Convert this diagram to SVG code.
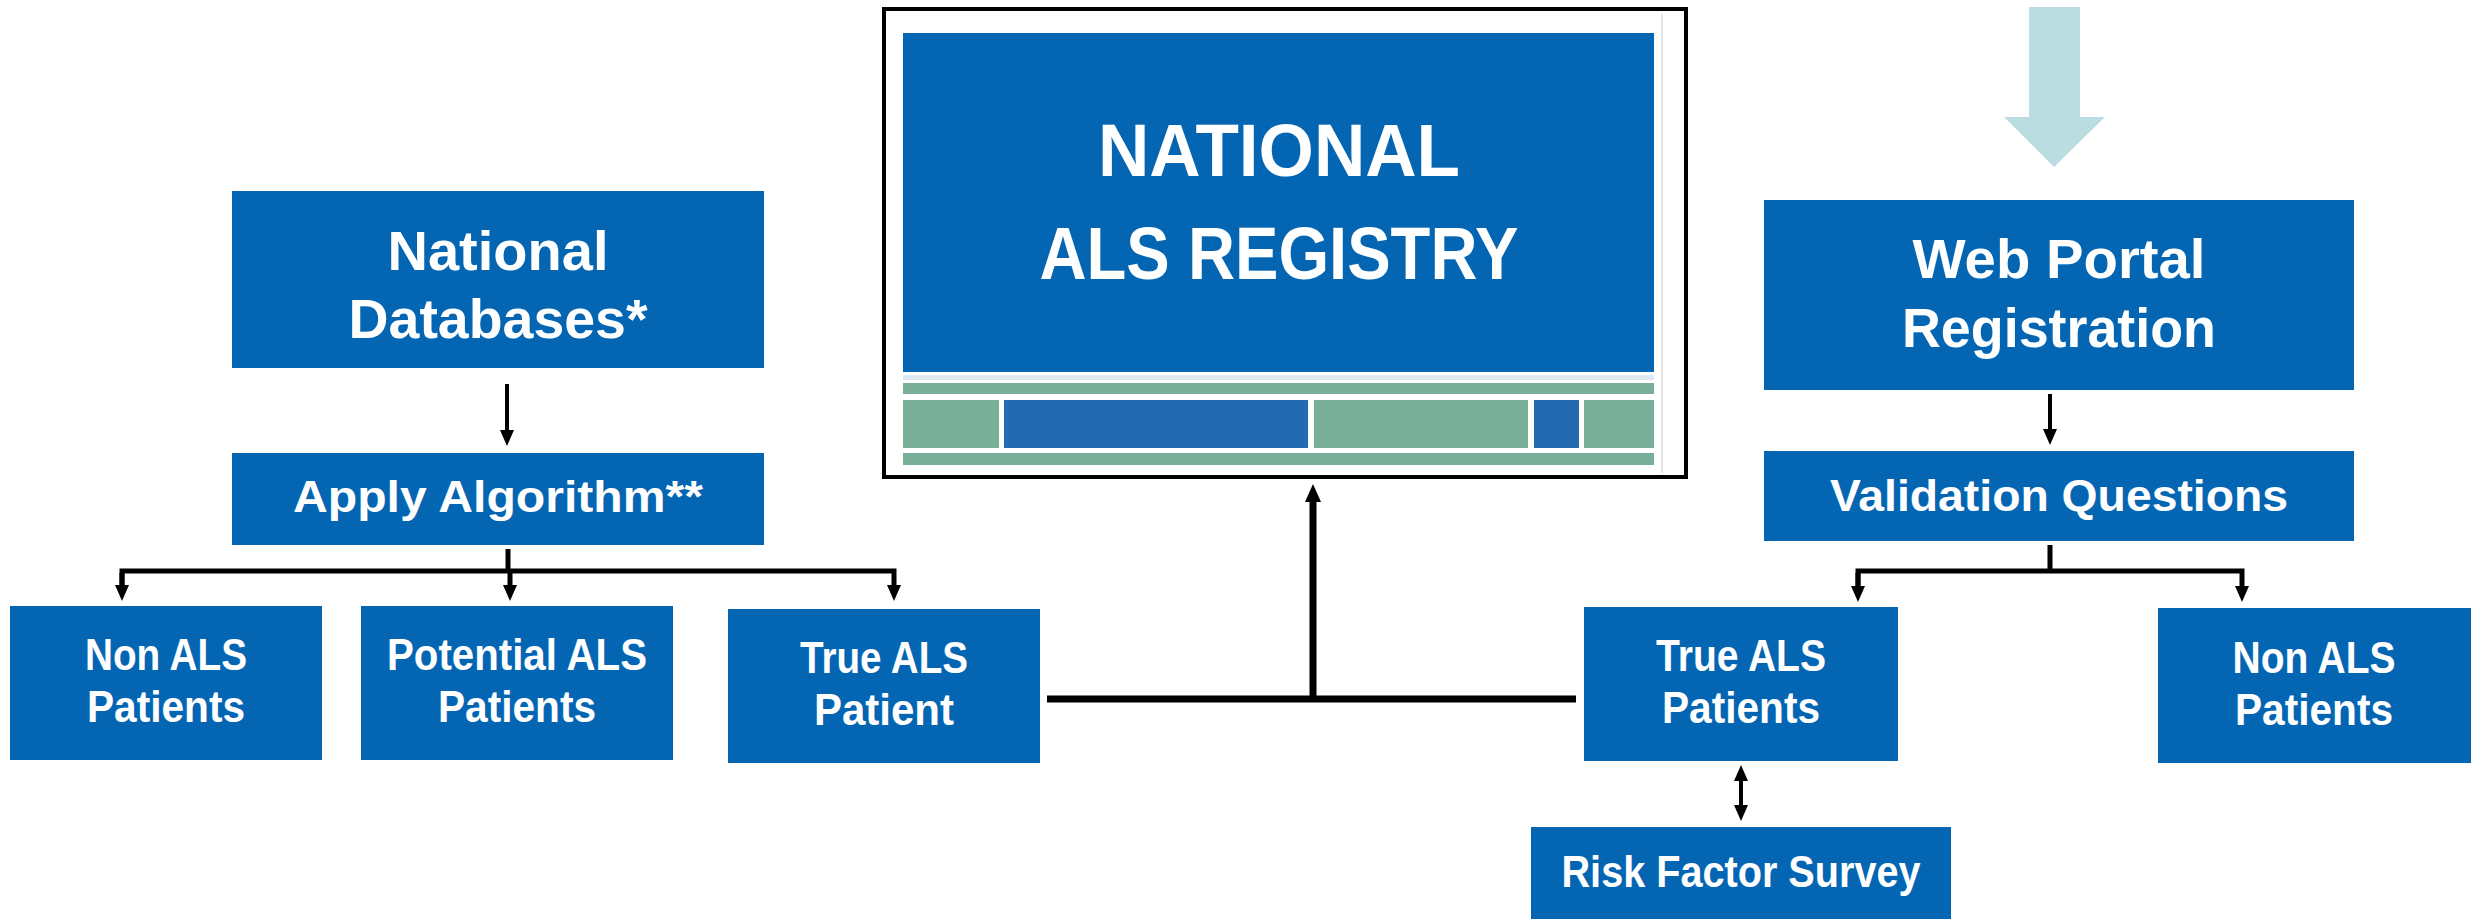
<svg xmlns="http://www.w3.org/2000/svg" width="2475" height="919" viewBox="0 0 2475 919">
<style>
.box{fill:#0466B3}
.t{font-family:"Liberation Sans",Arial,sans-serif;font-weight:bold;fill:#fff;text-anchor:middle}
.c{stroke:#000;fill:none}
.g{fill:#79AE98}
.b2{fill:#236BB0}
</style>
<defs>
<marker id="ah" markerUnits="userSpaceOnUse" markerWidth="16" markerHeight="16" viewBox="0 0 16 16" refX="1" refY="8" orient="auto"><path d="M0,1 L16,8 L0,15 z" fill="#000"/></marker>
<marker id="ahb" markerUnits="userSpaceOnUse" markerWidth="18" markerHeight="18" viewBox="0 0 18 18" refX="1" refY="9" orient="auto"><path d="M0,1 L18,9 L0,17 z" fill="#000"/></marker>
<marker id="ahd" markerUnits="userSpaceOnUse" markerWidth="16" markerHeight="16" viewBox="0 0 16 16" refX="1" refY="8" orient="auto-start-reverse"><path d="M0,1 L16,8 L0,15 z" fill="#000"/></marker>
</defs>
<rect width="2475" height="919" fill="#fff"/>

<g id="registry">
<rect x="884" y="9" width="802" height="468" fill="#fff" stroke="#000" stroke-width="4"/>
<line x1="1662" y1="14" x2="1662" y2="473" stroke="#e4e4e4" stroke-width="2"/>
<rect class="box" x="903" y="33" width="751" height="339"/>
<rect x="903" y="375" width="751" height="5" fill="#dde9f1"/>
<rect class="g" x="903" y="383" width="751" height="11"/>
<rect class="g" x="903" y="400" width="96" height="48"/>
<rect class="b2" x="1004" y="400" width="304" height="48"/>
<rect class="g" x="1314" y="400" width="214" height="48"/>
<rect class="b2" x="1534" y="400" width="45" height="48"/>
<rect class="g" x="1584" y="400" width="70" height="48"/>
<rect class="g" x="903" y="453" width="751" height="12"/>
<text class="t" x="1279" y="176" font-size="74" textLength="362" lengthAdjust="spacingAndGlyphs">NATIONAL</text>
<text class="t" x="1279" y="279" font-size="74" textLength="479" lengthAdjust="spacingAndGlyphs">ALS REGISTRY</text>
</g>

<g id="national-databases">
<rect class="box" x="232" y="191" width="532" height="177"/>
<text class="t" x="498" y="270" font-size="56" textLength="221" lengthAdjust="spacingAndGlyphs">National</text>
<text class="t" x="498" y="338" font-size="56" textLength="299" lengthAdjust="spacingAndGlyphs">Databases*</text>
</g>

<g id="apply-algorithm">
<rect class="box" x="232" y="453" width="532" height="92"/>
<text class="t" x="498" y="512" font-size="45" textLength="410" lengthAdjust="spacingAndGlyphs">Apply Algorithm**</text>
</g>

<g id="non-als-left">
<rect class="box" x="10" y="606" width="312" height="154"/>
<text class="t" x="166" y="670" font-size="44" textLength="162" lengthAdjust="spacingAndGlyphs">Non ALS</text>
<text class="t" x="166" y="722" font-size="44" textLength="158" lengthAdjust="spacingAndGlyphs">Patients</text>
</g>

<g id="potential-als">
<rect class="box" x="361" y="606" width="312" height="154"/>
<text class="t" x="517" y="670" font-size="44" textLength="260" lengthAdjust="spacingAndGlyphs">Potential ALS</text>
<text class="t" x="517" y="722" font-size="44" textLength="158" lengthAdjust="spacingAndGlyphs">Patients</text>
</g>

<g id="true-als-left">
<rect class="box" x="728" y="609" width="312" height="154"/>
<text class="t" x="884" y="673" font-size="44" textLength="168" lengthAdjust="spacingAndGlyphs">True ALS</text>
<text class="t" x="884" y="725" font-size="44" textLength="140" lengthAdjust="spacingAndGlyphs">Patient</text>
</g>

<g id="web-portal">
<polygon points="2029,7 2080,7 2080,117 2105,117 2054,167 2004,117 2029,117" fill="#B9DDE0"/>
<rect class="box" x="1764" y="200" width="590" height="190"/>
<text class="t" x="2059" y="278" font-size="56" textLength="293" lengthAdjust="spacingAndGlyphs">Web Portal</text>
<text class="t" x="2059" y="347" font-size="56" textLength="314" lengthAdjust="spacingAndGlyphs">Registration</text>
</g>

<g id="validation-questions">
<rect class="box" x="1764" y="451" width="590" height="90"/>
<text class="t" x="2059" y="511" font-size="45" textLength="458" lengthAdjust="spacingAndGlyphs">Validation Questions</text>
</g>

<g id="true-als-right">
<rect class="box" x="1584" y="607" width="314" height="154"/>
<text class="t" x="1741" y="671" font-size="44" textLength="170" lengthAdjust="spacingAndGlyphs">True ALS</text>
<text class="t" x="1741" y="723" font-size="44" textLength="158" lengthAdjust="spacingAndGlyphs">Patients</text>
</g>

<g id="non-als-right">
<rect class="box" x="2158" y="608" width="313" height="155"/>
<text class="t" x="2314" y="673" font-size="44" textLength="163" lengthAdjust="spacingAndGlyphs">Non ALS</text>
<text class="t" x="2314" y="725" font-size="44" textLength="158" lengthAdjust="spacingAndGlyphs">Patients</text>
</g>

<g id="risk-factor-survey">
<rect class="box" x="1531" y="827" width="420" height="92"/>
<text class="t" x="1741" y="887" font-size="45" textLength="359" lengthAdjust="spacingAndGlyphs">Risk Factor Survey</text>
</g>

<g id="connectors">
<line class="c" x1="507" y1="384" x2="507" y2="431" stroke-width="4" marker-end="url(#ah)"/>
<line class="c" x1="508" y1="549" x2="508" y2="571" stroke-width="5"/>
<polyline class="c" points="122,586 122,571 894,571 894,586" stroke-width="5" marker-end="url(#ah)"/>
<line class="c" x1="122" y1="573" x2="122" y2="586" stroke-width="5" marker-end="url(#ah)"/>
<line class="c" x1="510" y1="571" x2="510" y2="586" stroke-width="5" marker-end="url(#ah)"/>
<line class="c" x1="1047" y1="699" x2="1576" y2="699" stroke-width="7"/>
<line class="c" x1="1313" y1="699" x2="1313" y2="501" stroke-width="7" marker-end="url(#ahb)"/>
<line class="c" x1="2050" y1="394" x2="2050" y2="430" stroke-width="4" marker-end="url(#ah)"/>
<line class="c" x1="2050" y1="545" x2="2050" y2="571" stroke-width="5"/>
<polyline class="c" points="1858,587 1858,571 2242,571 2242,587" stroke-width="5" marker-end="url(#ah)"/>
<line class="c" x1="1858" y1="573" x2="1858" y2="587" stroke-width="5" marker-end="url(#ah)"/>
<line class="c" x1="1741" y1="780" x2="1741" y2="806" stroke-width="4" marker-start="url(#ahd)" marker-end="url(#ahd)"/>
</g>
</svg>
